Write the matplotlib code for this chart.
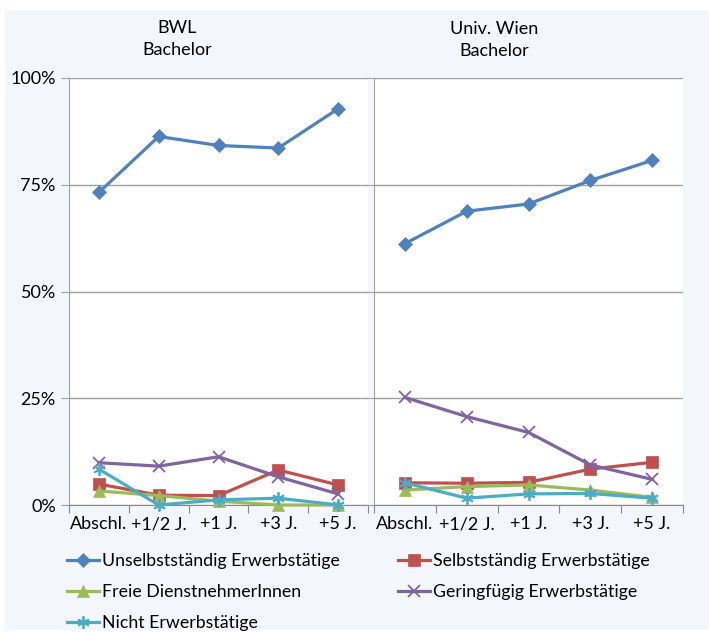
import matplotlib
matplotlib.use("Agg")
import matplotlib.pyplot as plt
from matplotlib.lines import Line2D
from matplotlib.patches import Rectangle

plt.rcParams['font.family'] = ['Lato', 'DejaVu Sans']

categories = ["Abschl.", "+1/2 J.", "+1 J.", "+3 J.", "+5 J."]
series_names = ["Unselbstständig Erwerbstätige", "Selbstständig Erwerbstätige",
                "Freie DienstnehmerInnen", "Geringfügig Erwerbstätige",
                "Nicht Erwerbstätige"]

# BWL Bachelor (percent)
bwl_unselbst = [73.2, 86.3, 84.2, 83.6, 92.8]
bwl_selbst = [4.9, 2.3, 2.2, 8.2, 4.7]
bwl_freie = [3.3, 2.2, 0.9, 0.0, 0.0]
bwl_gering = [9.9, 9.1, 11.3, 6.6, 2.6]
bwl_nicht = [8.4, 0.0, 1.2, 1.6, 0.0]

# Univ. Wien Bachelor (percent)
uw_unselbst = [61.2, 68.8, 70.5, 76.0, 80.7]
uw_selbst = [5.2, 5.1, 5.3, 8.4, 10.0]
uw_freie = [3.5, 4.3, 4.7, 3.5, 1.8]
uw_gering = [25.2, 20.7, 17.0, 9.4, 6.0]
uw_nicht = [5.2, 1.6, 2.6, 2.7, 1.6]

colors = ["#4F81BD", "#C0504D", "#9BBB59", "#8064A2", "#4BACC6"]
markers = ["D", "s", "^", "x", (6, 2, 0)]
msizes = [7, 8, 8, 9, 9]

W, H = 709, 633
fig = plt.figure(figsize=(W / 100, H / 100), dpi=100, facecolor="white")
fig.patches.append(Rectangle((5 / W, 3 / H), 1 - 5 / W, 620 / H, transform=fig.transFigure,
                             facecolor="#F3F6FB", edgecolor="none", zorder=-10))

def px_axes(x0, y0, x1, y1):
    return fig.add_axes([x0 / W, 1 - y1 / H, (x1 - x0) / W, (y1 - y0) / H])

ax1 = px_axes(69, 78, 368, 505)
ax2 = px_axes(374, 78, 683, 505)

panels = [
    (ax1, [bwl_unselbst, bwl_selbst, bwl_freie, bwl_gering, bwl_nicht]),
    (ax2, [uw_unselbst, uw_selbst, uw_freie, uw_gering, uw_nicht]),
]

x = list(range(len(categories)))
grid_col = "#A0A0A0"
fs = 13

def is_line_marker(m):
    return m == "x" or isinstance(m, tuple)

for ax, data in panels:
    ax.set_facecolor("white")
    for vals, c, m, ms in zip(data, colors, markers, msizes):
        ax.plot(x, vals, color=c, lw=2.3, marker=m, ms=ms,
                markeredgewidth=1.3 if is_line_marker(m) else 0.5,
                markerfacecolor=c, markeredgecolor=c, clip_on=False, zorder=3)
    ax.set_xlim(-0.5, 4.5)
    ax.set_ylim(0, 100)
    ax.set_yticks([0, 25, 50, 75, 100])
    ax.yaxis.grid(True, color=grid_col, lw=1.0)
    ax.set_axisbelow(True)
    for s in ["top", "right"]:
        ax.spines[s].set_visible(False)
    ax.spines["left"].set_color(grid_col)
    ax.spines["bottom"].set_color("#888888")
    ax.set_xticks([i - 0.5 for i in range(6)])
    ax.set_xticklabels([])
    ax.set_xticks(x, minor=True)
    ax.set_xticklabels(categories, minor=True, fontsize=fs)
    ax.tick_params(axis="x", which="major", length=6, color="#888888", direction="out")
    ax.tick_params(axis="x", which="minor", length=0, pad=8)
    ax.tick_params(axis="y", length=6, color=grid_col, direction="out")

ax1.set_yticklabels(["0%", "25%", "50%", "75%", "100%"], fontsize=fs)
ax2.set_yticklabels([])

fig.text(177 / W, 1 - 39 / H, "BWL\nBachelor", ha="center", va="center",
         fontsize=fs, linespacing=1.45)
fig.text(494 / W, 1 - 40 / H, "Univ. Wien\nBachelor", ha="center", va="center",
         fontsize=fs, linespacing=1.45)

handles = [Line2D([], [], color=c, lw=2.3, marker=m, ms=ms,
                  markerfacecolor=c, markeredgecolor=c,
                  markeredgewidth=1.3 if is_line_marker(m) else 0.5)
           for c, m, ms in zip(colors, markers, msizes)]
# legend fills row by row in the reference
order = [0, 2, 4, 1, 3]
leg = fig.legend([handles[i] for i in order], [series_names[i] for i in order],
                 loc="upper left", bbox_to_anchor=(67 / W, 1 - 553 / H), ncol=2,
                 frameon=False, fontsize=12.75, handlelength=1.8, handletextpad=0.2,
                 columnspacing=3.25, labelspacing=0.86, borderpad=0, borderaxespad=0)

fig.savefig("out.png", dpi=100, facecolor=fig.get_facecolor())
